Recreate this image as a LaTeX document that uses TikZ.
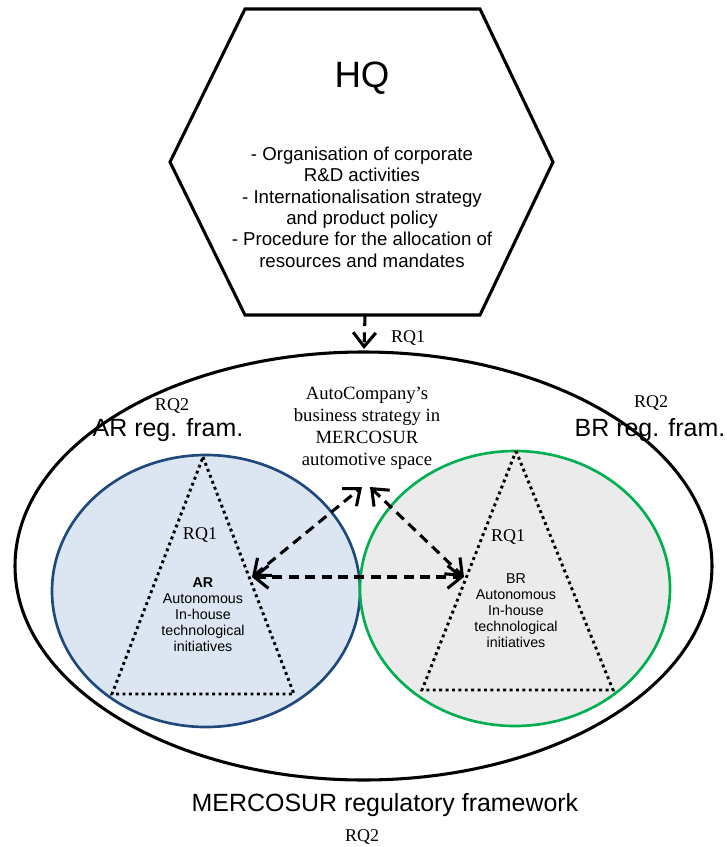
\documentclass[tikz,border=0pt]{standalone}
\usepackage{fontspec}
\setmainfont{Liberation Serif}
\newfontfamily\arial{Liberation Sans}
\usetikzlibrary{arrows.meta}

\definecolor{arEdge}{RGB}{31,73,125}
\definecolor{arFill}{RGB}{220,230,242}
\definecolor{brEdge}{RGB}{0,176,80}
\definecolor{brFill}{RGB}{235,235,235}

\tikzset{
  frame/.style={line width=2.3pt, line join=miter},
  country/.style={line width=2pt},
  dotline/.style={line width=2.2pt, dash pattern=on 2.2pt off 2.6pt},
  barb/.tip={Straight Barb[length=10.5pt,width=17pt]},
  dasharrow/.style={line width=2.3pt, dash pattern=on 7.5pt off 4.8pt, barb-barb},
  downarrow/.style={line width=2.3pt, dash pattern=on 7.5pt off 4.8pt, -barb},
  rq/.style={font=\fontsize{13.5}{16}\selectfont},
  regtitle/.style={font=\arial\fontsize{18.7}{22}\selectfont},
  inner/.style={font=\arial\fontsize{10.7}{12}\selectfont, align=center},
}

\begin{document}
\begin{tikzpicture}[x=0.75pt,y=-0.75pt]
\useasboundingbox (0,0) rectangle (726,847);

% country circles
\draw[country, draw=arEdge, fill=arFill] (206,591) ellipse [x radius=154, y radius=136];
\draw[country, draw=brEdge, fill=brFill] (515,588.5) ellipse [x radius=155, y radius=137.5];

% MERCOSUR frame
\draw[frame] (363.5,566) ellipse [x radius=348.5, y radius=214];

% HQ hexagon
\draw[frame] (245,9) -- (480,9) -- (553,162) -- (480,315) -- (245,315) -- (170,162) -- cycle;
\node[font=\arial\fontsize{27.5}{32}\selectfont] (hq) at (362,78) {HQ};
\node[font=\arial\fontsize{14}{16}\selectfont, align=center] (hqtext) at (362,207)
  {- Organisation of corporate\\R\&D activities\\- Internationalisation strategy\\and product policy\\- Procedure for the allocation of\\resources and mandates};

% in-house technology triangles
\draw[dotline] (203,457) -- (294,694) -- (112,694) -- cycle;
\draw[dotline] (516,451) -- (613,690) -- (422,690) -- cycle;

% labels
\node[rq] (rqtop) at (408,338) {RQ1};
\node[rq] (rqar) at (172,406) {RQ2};
\node[rq] (rqbr) at (651,403) {RQ2};
\node[rq] (rqtriar) at (200,535) {RQ1};
\node[rq] (rqtribr) at (508,537) {RQ1};
\node[rq] (rqbottom) at (362,837) {RQ2};

\node[regtitle] (arreg) at (168,430) {AR reg. fram.};
\node[regtitle] (brreg) at (650,430) {BR reg. fram.};
\node[regtitle] (mercreg) at (385,805) {MERCOSUR regulatory framework};

\node[font=\fontsize{14}{16.5}\selectfont, align=center] (strat) at (367,428)
  {AutoCompany’s\\business strategy in\\MERCOSUR\\automotive space};

\node[inner] (artext) at (203,615) {\textbf{AR}\\Autonomous\\In-house\\technological\\initiatives};
\node[inner] (brtext) at (516,611) {BR\\Autonomous\\In-house\\technological\\initiatives};

% connector end points
\coordinate (hqb) at (365,316);
\coordinate (mercTop) at (364,349);
\coordinate (arTip) at (252,577);
\coordinate (brTip) at (464,577);
\coordinate (stratL) at (362,487);
\coordinate (stratR) at (370,487);

% connectors
\draw[downarrow] (hqb) -- (mercTop);
\draw[dasharrow] (arTip) -- (brTip);
\draw[dasharrow] (arTip) -- (stratL);
\draw[dasharrow] (stratR) -- (brTip);
\end{tikzpicture}
\end{document}
